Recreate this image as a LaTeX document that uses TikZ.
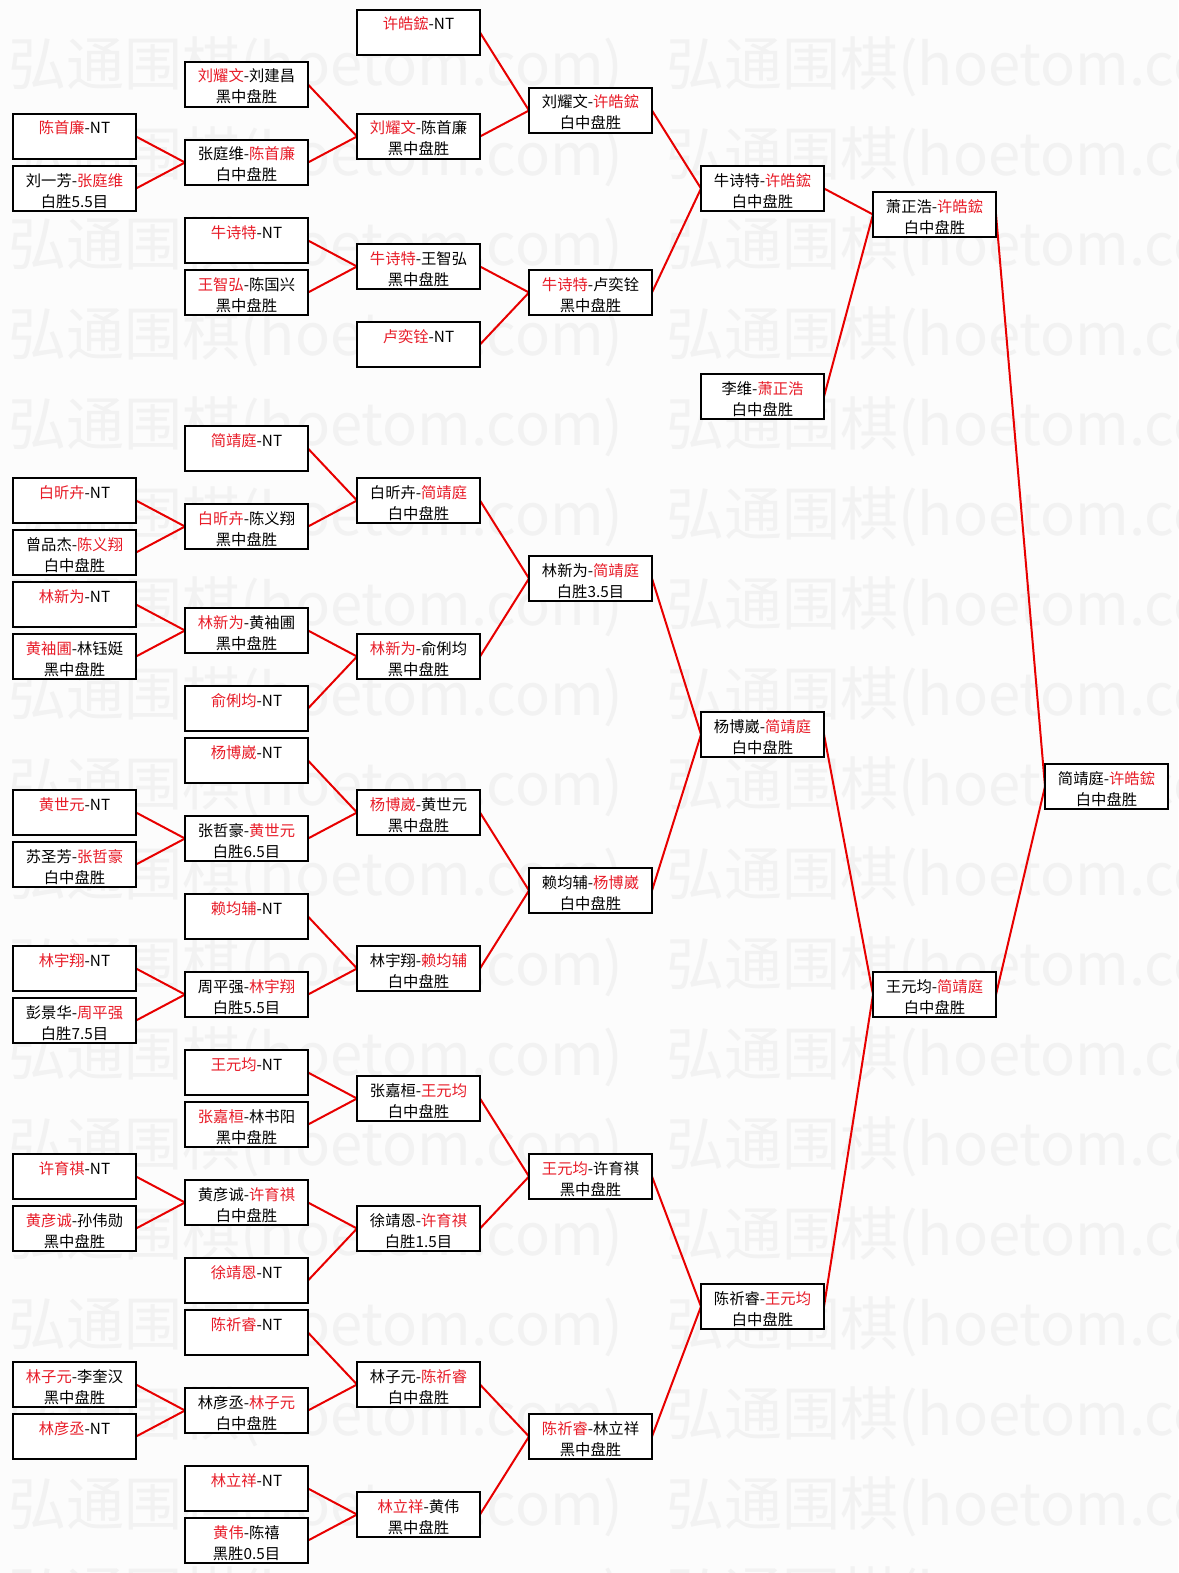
\documentclass[tikz,border=0pt]{standalone}
\usepackage{fontspec}
\setmainfont{Noto Sans CJK SC}
\definecolor{tred}{RGB}{232,28,40}
\definecolor{lred}{RGB}{232,0,0}
\definecolor{wmark}{RGB}{242,242,242}
\definecolor{bgc}{RGB}{252,252,252}
\pgfdeclarelayer{bglayer}
\pgfdeclarelayer{linelayer}
\pgfsetlayers{bglayer,linelayer,main}
\newcommand\rn[1]{\textcolor{tred}{#1}}
\newcommand\bx[4]{\node[boxst] (#1) at ({(13+172*#2)*1pt},{-(10+26*#3)*1pt}) {\parbox[t][45pt][t]{123pt}{\fontsize{15.3pt}{21pt}\selectfont\centering\rule{0pt}{20pt}#4}};}
\tikzset{
  boxst/.style={draw=black, line width=2.2pt, fill=white, inner sep=0pt, outer sep=0pt, anchor=north west},
  conn/.style={draw=lred, line width=2pt},
  wm/.style={text=wmark, inner sep=0pt, anchor=west, font=\fontsize{58pt}{60pt}\selectfont}
}
\begin{document}
\begin{tikzpicture}
\begin{pgfonlayer}{bglayer}
\fill[bgc] (0,0) rectangle (1178pt,-1573pt);
\begin{scope}
\clip (0,0) rectangle (1178pt,-1573pt);
\foreach \j in {0,...,17}{
  \node[wm] (wa\j) at (8pt,{-(67+90*\j)*1pt}) {弘通围棋(hoetom.com)};
  \node[wm] (wb\j) at (666pt,{-(67+90*\j)*1pt}) {弘通围棋(hoetom.com)};
}
\end{scope}
\end{pgfonlayer}
\useasboundingbox (0,0) rectangle (1178pt,-1573pt);

% column 0
\bx{p0k4}{0}{4}{\rn{陈首廉}-NT}
\bx{p0k6}{0}{6}{刘一芳-\rn{张庭维}\\白胜5.5目}
\bx{p0k18}{0}{18}{\rn{白昕卉}-NT}
\bx{p0k20}{0}{20}{曾品杰-\rn{陈义翔}\\白中盘胜}
\bx{p0k22}{0}{22}{\rn{林新为}-NT}
\bx{p0k24}{0}{24}{\rn{黄袖圃}-林钰娗\\黑中盘胜}
\bx{p0k30}{0}{30}{\rn{黄世元}-NT}
\bx{p0k32}{0}{32}{苏圣芳-\rn{张哲豪}\\白中盘胜}
\bx{p0k36}{0}{36}{\rn{林宇翔}-NT}
\bx{p0k38}{0}{38}{彭景华-\rn{周平强}\\白胜7.5目}
\bx{p0k44}{0}{44}{\rn{许育祺}-NT}
\bx{p0k46}{0}{46}{\rn{黄彦诚}-孙伟勋\\黑中盘胜}
\bx{p0k52}{0}{52}{\rn{林子元}-李奎汉\\黑中盘胜}
\bx{p0k54}{0}{54}{\rn{林彦丞}-NT}

% column 1
\bx{p1k2}{1}{2}{\rn{刘耀文}-刘建昌\\黑中盘胜}
\bx{p1k5}{1}{5}{张庭维-\rn{陈首廉}\\白中盘胜}
\bx{p1k8}{1}{8}{\rn{牛诗特}-NT}
\bx{p1k10}{1}{10}{\rn{王智弘}-陈国兴\\黑中盘胜}
\bx{p1k16}{1}{16}{\rn{简靖庭}-NT}
\bx{p1k19}{1}{19}{\rn{白昕卉}-陈义翔\\黑中盘胜}
\bx{p1k23}{1}{23}{\rn{林新为}-黄袖圃\\黑中盘胜}
\bx{p1k26}{1}{26}{\rn{俞俐均}-NT}
\bx{p1k28}{1}{28}{\rn{杨博崴}-NT}
\bx{p1k31}{1}{31}{张哲豪-\rn{黄世元}\\白胜6.5目}
\bx{p1k34}{1}{34}{\rn{赖均辅}-NT}
\bx{p1k37}{1}{37}{周平强-\rn{林宇翔}\\白胜5.5目}
\bx{p1k40}{1}{40}{\rn{王元均}-NT}
\bx{p1k42}{1}{42}{\rn{张嘉桓}-林书阳\\黑中盘胜}
\bx{p1k45}{1}{45}{黄彦诚-\rn{许育祺}\\白中盘胜}
\bx{p1k48}{1}{48}{\rn{徐靖恩}-NT}
\bx{p1k50}{1}{50}{\rn{陈祈睿}-NT}
\bx{p1k53}{1}{53}{林彦丞-\rn{林子元}\\白中盘胜}
\bx{p1k56}{1}{56}{\rn{林立祥}-NT}
\bx{p1k58}{1}{58}{\rn{黄伟}-陈禧\\黑胜0.5目}

% column 2
\bx{p2k0}{2}{0}{\rn{许皓鋐}-NT}
\bx{p2k4}{2}{4}{\rn{刘耀文}-陈首廉\\黑中盘胜}
\bx{p2k9}{2}{9}{\rn{牛诗特}-王智弘\\黑中盘胜}
\bx{p2k12}{2}{12}{\rn{卢奕铨}-NT}
\bx{p2k18}{2}{18}{白昕卉-\rn{简靖庭}\\白中盘胜}
\bx{p2k24}{2}{24}{\rn{林新为}-俞俐均\\黑中盘胜}
\bx{p2k30}{2}{30}{\rn{杨博崴}-黄世元\\黑中盘胜}
\bx{p2k36}{2}{36}{林宇翔-\rn{赖均辅}\\白中盘胜}
\bx{p2k41}{2}{41}{张嘉桓-\rn{王元均}\\白中盘胜}
\bx{p2k46}{2}{46}{徐靖恩-\rn{许育祺}\\白胜1.5目}
\bx{p2k52}{2}{52}{林子元-\rn{陈祈睿}\\白中盘胜}
\bx{p2k57}{2}{57}{\rn{林立祥}-黄伟\\黑中盘胜}

% column 3
\bx{p3k3}{3}{3}{刘耀文-\rn{许皓鋐}\\白中盘胜}
\bx{p3k10}{3}{10}{\rn{牛诗特}-卢奕铨\\黑中盘胜}
\bx{p3k21}{3}{21}{林新为-\rn{简靖庭}\\白胜3.5目}
\bx{p3k33}{3}{33}{赖均辅-\rn{杨博崴}\\白中盘胜}
\bx{p3k44}{3}{44}{\rn{王元均}-许育祺\\黑中盘胜}
\bx{p3k54}{3}{54}{\rn{陈祈睿}-林立祥\\黑中盘胜}

% column 4
\bx{p4k6}{4}{6}{牛诗特-\rn{许皓鋐}\\白中盘胜}
\bx{p4k14}{4}{14}{李维-\rn{萧正浩}\\白中盘胜}
\bx{p4k27}{4}{27}{杨博崴-\rn{简靖庭}\\白中盘胜}
\bx{p4k49}{4}{49}{陈祈睿-\rn{王元均}\\白中盘胜}

% column 5
\bx{p5k7}{5}{7}{萧正浩-\rn{许皓鋐}\\白中盘胜}
\bx{p5k37}{5}{37}{王元均-\rn{简靖庭}\\白中盘胜}

% column 6
\bx{p6k29}{6}{29}{简靖庭-\rn{许皓鋐}\\白中盘胜}

% connectors
\begin{pgfonlayer}{linelayer}
\foreach \a/\b in {
  p0k4/p1k5, p0k6/p1k5,
  p1k2/p2k4, p1k5/p2k4,
  p2k0/p3k3, p2k4/p3k3,
  p1k8/p2k9, p1k10/p2k9,
  p2k9/p3k10, p2k12/p3k10,
  p3k3/p4k6, p3k10/p4k6,
  p4k6/p5k7, p4k14/p5k7,
  p5k7/p6k29, p5k37/p6k29,
  p0k18/p1k19, p0k20/p1k19,
  p1k16/p2k18, p1k19/p2k18,
  p0k22/p1k23, p0k24/p1k23,
  p1k23/p2k24, p1k26/p2k24,
  p2k18/p3k21, p2k24/p3k21,
  p0k30/p1k31, p0k32/p1k31,
  p1k28/p2k30, p1k31/p2k30,
  p0k36/p1k37, p0k38/p1k37,
  p1k34/p2k36, p1k37/p2k36,
  p2k30/p3k33, p2k36/p3k33,
  p3k21/p4k27, p3k33/p4k27,
  p4k27/p5k37, p4k49/p5k37,
  p1k40/p2k41, p1k42/p2k41,
  p0k44/p1k45, p0k46/p1k45,
  p1k45/p2k46, p1k48/p2k46,
  p2k41/p3k44, p2k46/p3k44,
  p0k52/p1k53, p0k54/p1k53,
  p1k50/p2k52, p1k53/p2k52,
  p1k56/p2k57, p1k58/p2k57,
  p2k52/p3k54, p2k57/p3k54,
  p3k44/p4k49, p3k54/p4k49}{
  \draw[conn] (\a.east) -- (\b.west);
}
\end{pgfonlayer}
\end{tikzpicture}
\end{document}
